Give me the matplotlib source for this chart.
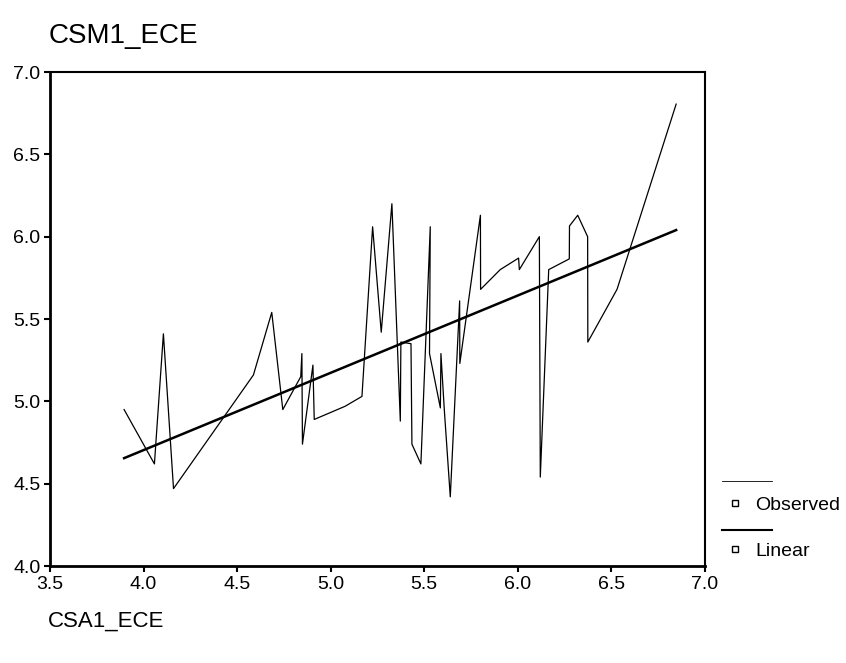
import matplotlib
matplotlib.use("Agg")
import matplotlib.pyplot as plt
from matplotlib.lines import Line2D

# observed series, sorted by x as SPSS draws it
obs_x = [3.896, 4.058, 4.106, 4.160, 4.587, 4.685, 4.744, 4.840, 4.846, 4.849,
         4.905, 4.912, 5.077, 5.167, 5.224, 5.270, 5.327, 5.372, 5.375, 5.429,
         5.434, 5.482, 5.532, 5.528, 5.586, 5.589, 5.607, 5.639, 5.689, 5.690,
         5.800, 5.801, 5.906, 6.004, 6.008, 6.115, 6.120, 6.165, 6.275, 6.276,
         6.320, 6.373, 6.374, 6.530, 6.846]
obs_y = [4.95, 4.62, 5.41, 4.47, 5.16, 5.54, 4.95, 5.15, 5.29, 4.74,
         5.22, 4.89, 4.97, 5.03, 6.06, 5.42, 6.20, 4.88, 5.36, 5.35,
         4.74, 4.62, 6.06, 5.29, 4.96, 5.29, 4.95, 4.42, 5.61, 5.23,
         6.13, 5.68, 5.80, 5.87, 5.80, 6.00, 4.54, 5.80, 5.865, 6.065,
         6.13, 6.00, 5.36, 5.68, 6.805]

# linear fit endpoints
fit_x = [3.896, 6.846]
fit_y = [4.655, 6.04]

x_ticks = [3.5, 4.0, 4.5, 5.0, 5.5, 6.0, 6.5, 7.0]
y_ticks = [4.0, 4.5, 5.0, 5.5, 6.0, 6.5, 7.0]

legend_labels = ["Observed", "Linear"]

plt.rcParams["font.family"] = ["Liberation Sans", "DejaVu Sans"]

fig = plt.figure(figsize=(8.46, 6.63), dpi=100)
ax = fig.add_axes([0.0591, 0.1463, 0.7742, 0.7451])

ax.plot(obs_x, obs_y, color="black", linewidth=0.9)
ax.plot(fit_x, fit_y, color="black", linewidth=1.8)

ax.set_xlim(3.5, 7.0)
ax.set_ylim(4.0, 7.0)
ax.set_xticks(x_ticks, [f"{v:.1f}" for v in x_ticks])
ax.set_yticks(y_ticks, [f"{v:.1f}" for v in y_ticks])
ax.tick_params(labelsize=14, length=4, width=1.5, direction="out", pad=3)
for side in ["left", "bottom"]:
    ax.spines[side].set_linewidth(2)
for side in ["top", "right"]:
    ax.spines[side].set_linewidth(1.5)

fig.text(0.057, 0.945, "CSM1_ECE", fontsize=20, va="center", ha="left")
fig.text(0.057, 0.063, "CSA1_ECE", fontsize=16, va="center", ha="left")

# SPSS style legend: a line sample above each marker + label
legend_styles = [(0.6, 0.2745, 0.237), (1.5, 0.2006, 0.168)]
for label, (lw, y_line, y_text) in zip(legend_labels, legend_styles):
    fig.add_artist(Line2D([0.853, 0.913], [y_line, y_line], color="black",
                          linewidth=lw, transform=fig.transFigure))
    fig.add_artist(Line2D([0.869], [y_text + 0.004], marker="s", markersize=5,
                          markerfacecolor="white", markeredgecolor="black",
                          markeredgewidth=1, transform=fig.transFigure))
    fig.text(0.893, y_text, label, fontsize=14, va="center", ha="left")

fig.savefig("out.png", dpi=100, facecolor="white")
